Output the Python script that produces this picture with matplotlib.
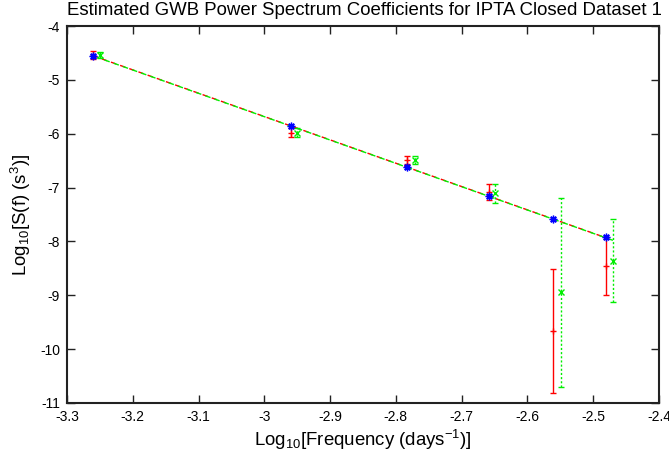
import matplotlib
matplotlib.use("Agg")
import matplotlib.pyplot as plt
from matplotlib.ticker import FixedLocator, FuncFormatter

plt.rcParams['font.family'] = ['Liberation Sans', 'DejaVu Sans']
plt.rcParams['mathtext.fontset'] = 'custom'
plt.rcParams['mathtext.rm'] = 'Liberation Sans'
plt.rcParams['mathtext.it'] = 'Liberation Sans'
plt.rcParams['mathtext.default'] = 'rm'
plt.rcParams['axes.unicode_minus'] = False

# Data (log10 values)
freq_true = [-3.261, -2.959, -2.783, -2.658, -2.561, -2.481]
spec_true = [-4.55, -5.857, -6.624, -7.156, -7.583, -7.924]

freq_est1 = [-3.261, -2.959, -2.783, -2.658, -2.561, -2.481]
spec_est1 = [-4.535, -5.98, -6.49, -7.08, -9.66, -8.46]
err_est1 = [0.075, 0.085, 0.075, 0.145, 1.15, 0.54]

freq_est2 = [-3.250, -2.951, -2.771, -2.650, -2.549, -2.470]
spec_est2 = [-4.54, -5.98, -6.49, -7.11, -8.945, -8.357]
err_est2 = [0.05, 0.08, 0.08, 0.18, 1.75, 0.77]

model_x1 = [-3.261, -2.481]
model_y1 = [-4.55, -7.93]
model_x2 = [-3.250, -2.470]
model_y2 = [-4.60, -7.98]

xticks = [-3.3, -3.2, -3.1, -3.0, -2.9, -2.8, -2.7, -2.6, -2.5, -2.4]
yticks = [-4, -5, -6, -7, -8, -9, -10, -11]

RED = '#ff0000'
GREEN = '#00ee00'
BLUE = '#0000ff'

fig = plt.figure(figsize=(6.69, 4.57), dpi=100)
ax = fig.add_axes([0.1001, 0.1182, 0.8849, 0.8249])

# model lines
ax.plot(model_x1, model_y1, color=RED, lw=1.0, ls=(0, (4, 3)), zorder=2)
ax.plot(model_x2, model_y2, color=GREEN, lw=1.0, ls=(3.5, (4, 3)), zorder=2)

# estimate 1 (red, solid error bars)
ax.errorbar(freq_est1, spec_est1, yerr=err_est1, fmt='+', color=RED, ecolor=RED,
            elinewidth=1.0, capsize=2.5, capthick=1.0, markersize=5, mew=1.0, zorder=3)

# estimate 2 (green, dotted error bars)
eb = ax.errorbar(freq_est2, spec_est2, yerr=err_est2, fmt='x', color=GREEN, ecolor=GREEN,
                 elinewidth=1.0, capsize=2.5, capthick=1.0, markersize=5, mew=1.0, zorder=3)
for coll in eb[2]:
    coll.set_linestyle((0, (1.5, 1.5)))

# true values (blue asterisks)
ax.plot(freq_true, spec_true, ls='none', marker=(8, 2, 0), color=BLUE, markersize=5.5,
        mew=1.0, zorder=4)

ax.set_xlim(-3.3, -2.4)
ax.set_ylim(-11, -4)
ax.xaxis.set_major_locator(FixedLocator(xticks))
ax.yaxis.set_major_locator(FixedLocator(yticks))
ax.xaxis.set_major_formatter(FuncFormatter(lambda v, p: '%g' % round(v, 3)))
ax.yaxis.set_major_formatter(FuncFormatter(lambda v, p: '%g' % round(v, 3)))
ax.tick_params(direction='in', length=6, width=1.0, top=True, right=True,
               labelsize=10, pad=5, colors='#222222', labelcolor='black')
for s in ax.spines.values():
    s.set_linewidth(1.5)
    s.set_color('#222222')

ax.set_xlabel('Log$_{10}$[Frequency (days$^{-1}$)]', fontsize=13.4, labelpad=3)
ax.set_ylabel('Log$_{10}$[S(f) (s$^{3}$)]', fontsize=13.4, labelpad=5)
ax.set_title('Estimated GWB Power Spectrum Coefficients for IPTA Closed Dataset 1',
             fontsize=13.4, pad=8, x=0.503)

fig.savefig('out.png', dpi=100)
